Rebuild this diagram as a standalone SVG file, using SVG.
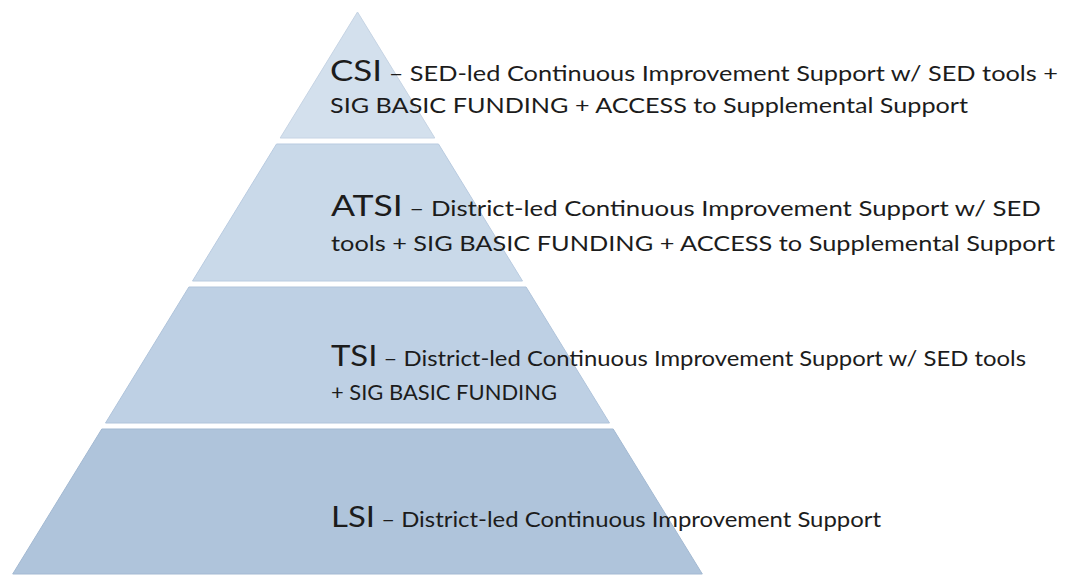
<svg xmlns="http://www.w3.org/2000/svg" width="1075" height="576" viewBox="0 0 1075 576">
<style>
.band{stroke-width:1}
.lbl{font-family:Lato,"Open Sans","Liberation Sans",sans-serif;fill:#1c1c1c}
.big{font-size:29px}
.sm{font-size:21px}
.md{font-size:22px}
</style>
<rect width="1075" height="576" fill="#ffffff"/>
<g id="connectors"></g>
<g id="csi">
<polygon class="band" points="357.5,12 434.8,138 280.2,138" fill="#d3e0ed" stroke="#c6d4e4"/>
<text class="lbl" x="330" y="81" textLength="728" lengthAdjust="spacingAndGlyphs"><tspan class="big">CSI</tspan><tspan class="sm"> – SED-led Continuous Improvement Support w/ SED tools +</tspan></text>
<text class="lbl md" x="330" y="113" textLength="638" lengthAdjust="spacingAndGlyphs">SIG BASIC FUNDING + ACCESS to Supplemental Support</text>
</g>
<g id="atsi">
<polygon class="band" points="276.5,144 438.5,144 522.5,281 192.5,281" fill="#c9d9e9" stroke="#b9cbe0"/>
<text class="lbl" x="331" y="216" textLength="710" lengthAdjust="spacingAndGlyphs"><tspan class="big">ATSI</tspan><tspan class="sm"> – District-led Continuous Improvement Support w/ SED</tspan></text>
<text class="lbl md" x="331" y="251" textLength="724" lengthAdjust="spacingAndGlyphs">tools + SIG BASIC FUNDING + ACCESS to Supplemental Support</text>
</g>
<g id="tsi">
<polygon class="band" points="188.9,287 526.1,287 609.5,423 105.5,423" fill="#bed0e4" stroke="#b0c4db"/>
<text class="lbl" x="331" y="366" textLength="695" lengthAdjust="spacingAndGlyphs"><tspan class="big">TSI</tspan><tspan class="sm"> – District-led Continuous Improvement  Support  w/ SED tools</tspan></text>
<text class="lbl sm" x="331" y="400" textLength="226" lengthAdjust="spacingAndGlyphs">+ SIG BASIC FUNDING</text>
</g>
<g id="lsi">
<polygon class="band" points="101.8,429 613.2,429 702.3,574 12.7,574" fill="#afc4db" stroke="#a3b9d2"/>
<text class="lbl" x="331" y="527" textLength="550" lengthAdjust="spacingAndGlyphs"><tspan class="big">LSI</tspan><tspan class="sm"> – District-led Continuous Improvement Support</tspan></text>
</g>
</svg>
